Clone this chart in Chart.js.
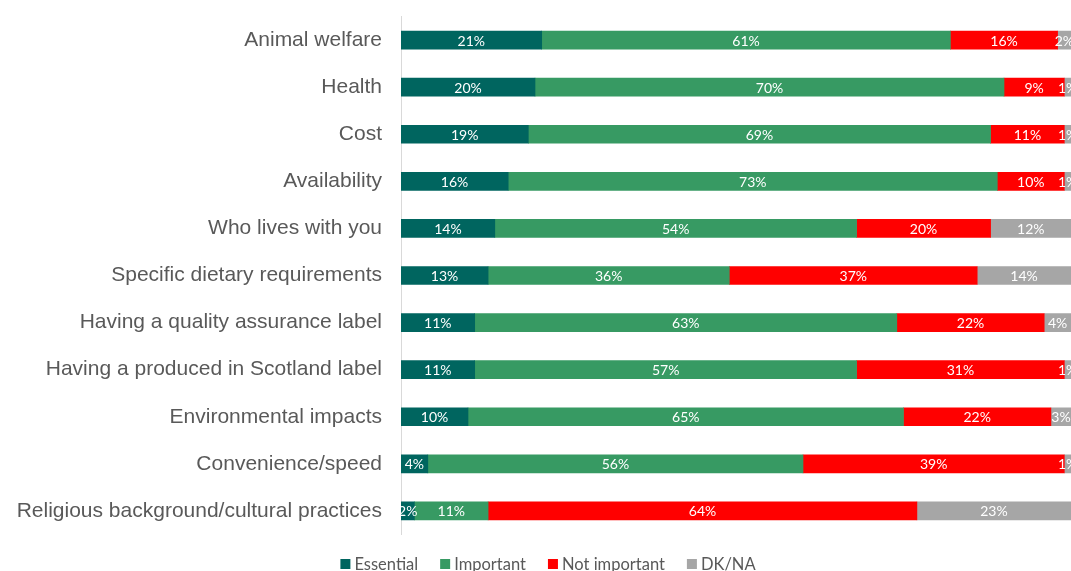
<!DOCTYPE html>
<html>
<head>
<meta charset="utf-8">
<script src="https://cdn.jsdelivr.net/npm/chart.js@4"></script>
<style>
  html, body { margin: 0; padding: 0; background: #fff; }
  #wrap { width: 1071px; height: 571px; }
</style>
</head>
<body>
<div id="wrap"><canvas id="chart" width="1071" height="571"></canvas></div>
<script>
// Categorias e valores (%)
const categories = [
  'Animal welfare',
  'Health',
  'Cost',
  'Availability',
  'Who lives with you',
  'Specific dietary requirements',
  'Having a quality assurance label',
  'Having a produced in Scotland label',
  'Environmental impacts',
  'Convenience/speed',
  'Religious background/cultural practices'
];
const essential    = [21, 20, 19, 16, 14, 13, 11, 11, 10, 4, 2];
const important    = [61, 70, 69, 73, 54, 36, 63, 57, 65, 56, 11];
const notImportant = [16, 9, 11, 10, 20, 37, 22, 31, 22, 39, 64];
const dkNa         = [2, 1, 1, 1, 12, 14, 4, 1, 3, 1, 23];

const labelFont = '14px Lato, "Open Sans", sans-serif';
const legendFont = '16.5px Lato, "Open Sans", sans-serif';

// Plugin simples para escrever os rótulos no centro de cada segmento
const barLabels = {
  id: 'barLabels',
  afterDatasetsDraw(chart) {
    const ctx = chart.ctx;
    ctx.save();
    ctx.font = labelFont;
    ctx.fillStyle = '#ffffff';
    ctx.textAlign = 'center';
    ctx.textBaseline = 'middle';
    chart.data.datasets.forEach((ds, i) => {
      const meta = chart.getDatasetMeta(i);
      meta.data.forEach((bar, j) => {
        const x = (bar.x + bar.base) / 2;
        ctx.fillText(ds.data[j] + '%', x, bar.y + 1);
      });
    });
    ctx.restore();
  }
};

// Legenda desenhada à mão, no estilo do Excel
const customLegend = {
  id: 'customLegend',
  afterDraw(chart) {
    const ctx = chart.ctx;
    ctx.save();
    ctx.font = legendFont;
    ctx.textBaseline = 'middle';
    const box = 10, gap = 4, spacing = 22;
    const items = chart.data.datasets.map(ds => ({
      text: ds.label, color: ds.backgroundColor, w: ctx.measureText(ds.label).width
    }));
    const total = items.reduce((s, it) => s + box + gap + it.w, 0) + spacing * (items.length - 1);
    let x = 548 - total / 2;
    const y = 564;
    items.forEach(it => {
      ctx.fillStyle = it.color;
      ctx.fillRect(x, y - box / 2, box, box);
      x += box + gap;
      ctx.fillStyle = '#595959';
      ctx.fillText(it.text, x, y + 1);
      x += it.w + spacing;
    });
    ctx.restore();
  }
};

const ctx = document.getElementById('chart').getContext('2d');
new Chart(ctx, {
  type: 'bar',
  data: {
    labels: categories,
    datasets: [
      { label: 'Essential', data: essential, backgroundColor: '#00655F' },
      { label: 'Important', data: important, backgroundColor: '#379A63' },
      { label: 'Not important', data: notImportant, backgroundColor: '#FF0000' },
      { label: 'DK/NA', data: dkNa, backgroundColor: '#A6A6A6' }
    ]
  },
  options: {
    indexAxis: 'y',
    responsive: false,
    animation: false,
    layout: { padding: { top: 16.5, right: 0, bottom: 36.5, left: 0 } },
    datasets: { bar: { barThickness: 18 } },
    scales: {
      x: {
        stacked: true,
        min: 0,
        max: 100,
        display: false
      },
      y: {
        stacked: true,
        grid: { display: false },
        border: { display: true, color: '#D9D9D9', width: 1 },
        ticks: {
          color: '#595959',
          padding: 11,
          font: { family: '"Liberation Sans", Arial, sans-serif', size: 21 }
        },
        afterFit(scale) {
          scale.width = 401;
          scale.paddingTop = 0;
          scale.paddingBottom = 0;
        }
      }
    },
    plugins: {
      legend: { display: false },
      tooltip: { enabled: false }
    }
  },
  plugins: [barLabels, customLegend]
});
</script>
</body>
</html>
